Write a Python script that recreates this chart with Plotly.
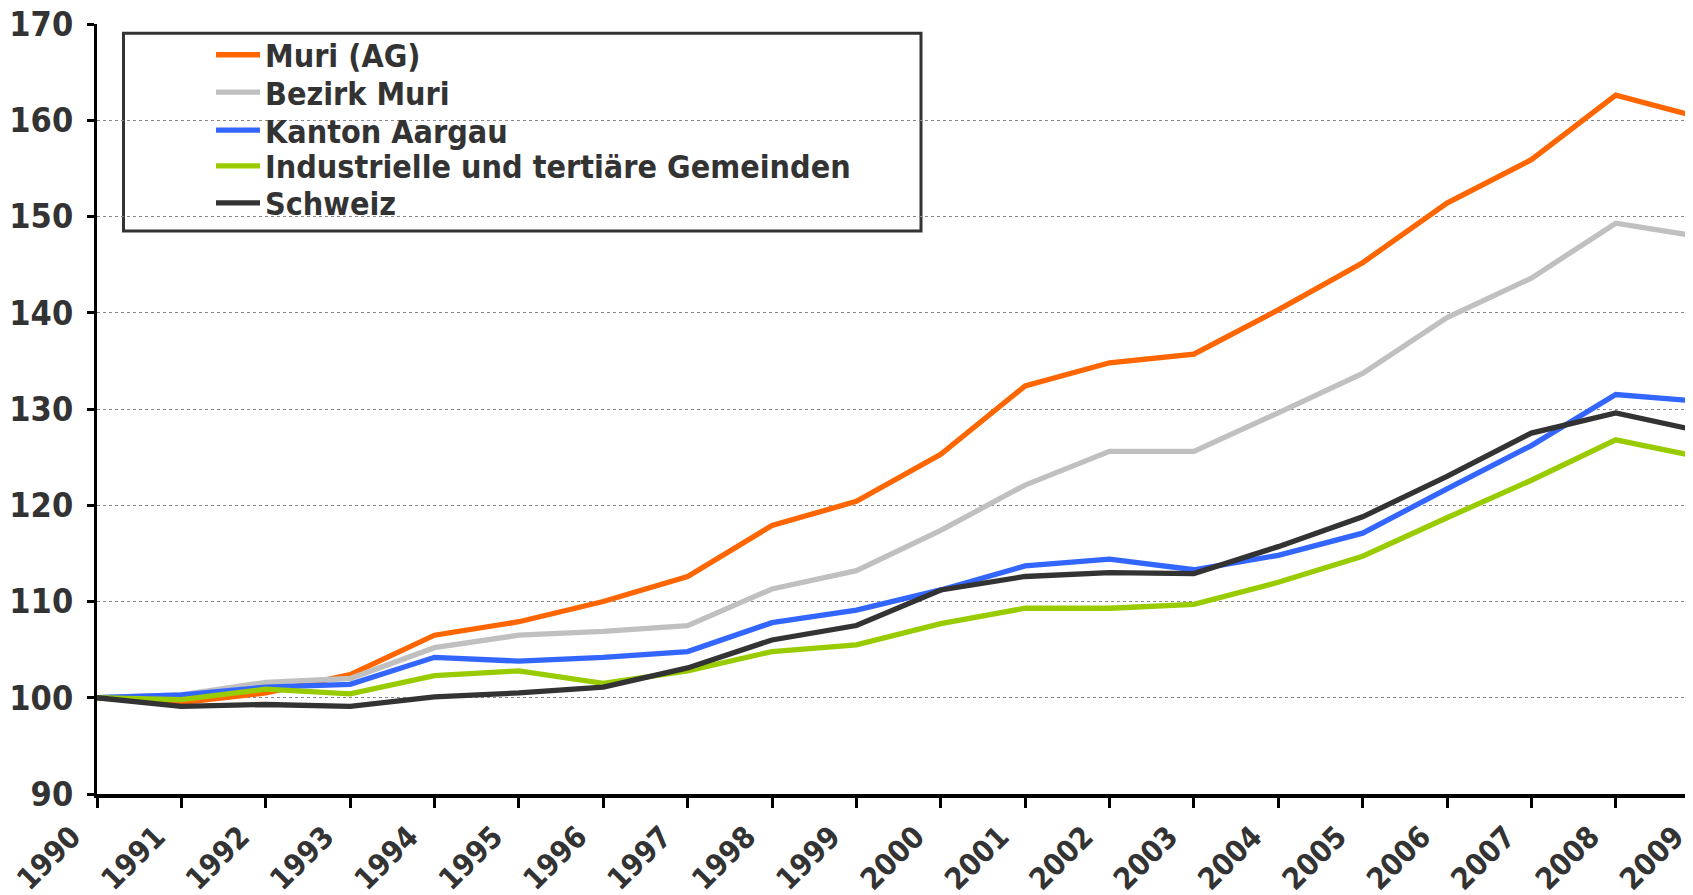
import plotly.graph_objects as go

years = list(range(1990, 2010))
muri_ag = [100, 99.5, 100.5, 102.4, 106.5, 107.9, 110.0, 112.6, 117.9, 120.4,
           125.3, 132.4, 134.8, 135.7, 140.3, 145.2, 151.4, 155.9, 162.6, 160.3]
bezirk_muri = [100, 100.3, 101.6, 102.0, 105.2, 106.5, 106.9, 107.5, 111.3, 113.2,
               117.4, 122.1, 125.6, 125.6, 129.6, 133.7, 139.5, 143.6, 149.3, 147.9]
kanton_aargau = [100, 100.3, 101.1, 101.4, 104.2, 103.8, 104.2, 104.8, 107.8, 109.1,
                 111.2, 113.7, 114.4, 113.3, 114.8, 117.1, 121.7, 126.2, 131.5, 130.8]
industrielle = [100, 99.8, 100.9, 100.4, 102.3, 102.8, 101.5, 102.8, 104.8, 105.5,
                107.7, 109.3, 109.3, 109.7, 112.0, 114.7, 118.7, 122.6, 126.8, 125.0]
schweiz = [100, 99.1, 99.3, 99.1, 100.1, 100.5, 101.1, 103.1, 106.0, 107.5,
           111.2, 112.6, 113.0, 112.9, 115.7, 118.8, 123.0, 127.5, 129.6, 127.7]

series_names = ["Muri (AG)", "Bezirk Muri", "Kanton Aargau",
                "Industrielle und tertiäre Gemeinden", "Schweiz"]
series_values = [muri_ag, bezirk_muri, kanton_aargau, industrielle, schweiz]
colors = ["#FF6600", "#C0C0C0", "#3366FF", "#99CC00", "#333333"]
y_ticks = [90, 100, 110, 120, 130, 140, 150, 160, 170]

FONT = "DejaVu Sans Condensed, DejaVu Sans, sans-serif"
TEXT = "#333333"

# page is offset by the 8px body margin; figure coordinates below
L, T, W, H = 89, 15.75, 1709, 895
PLOT_W = 1620
PLOT_H = 769.85
B = H - T - PLOT_H

legend_rows_px = [46.7, 84.0, 122.0, 157.7, 194.7]
legend_ids = ["legend", "legend2", "legend3", "legend4", "legend5"]

fig = go.Figure()
for name, vals, col, lid in zip(series_names, series_values, colors, legend_ids):
    fig.add_trace(go.Scatter(x=years, y=vals, name=name, mode="lines",
                             line=dict(color=col, width=5.3), legend=lid))

legend_x = (203 - L) / PLOT_W
layout_legends = {}
for lid, py in zip(legend_ids, legend_rows_px):
    layout_legends[lid] = dict(
        x=legend_x, y=1 - (py - T) / PLOT_H, xanchor="left", yanchor="middle",
        bgcolor="rgba(0,0,0,0)", borderwidth=0, itemwidth=44,
        font=dict(family=FONT, size=32, color=TEXT, weight="bold"),
    )

fig.update_layout(
    width=W, height=H,
    margin=dict(l=L, r=W - L - PLOT_W, t=T, b=B, autoexpand=False),
    paper_bgcolor="white", plot_bgcolor="white",
    font=dict(family=FONT, color=TEXT, size=32, weight="bold"),
    showlegend=True,
    shapes=[dict(type="rect", xref="paper", yref="paper",
                 x0=(115.5 - L) / PLOT_W, x1=(913 - L) / PLOT_W,
                 y0=1 - (222.7 - T) / PLOT_H, y1=1 - (25 - T) / PLOT_H,
                 line=dict(color="#333333", width=3), fillcolor="white",
                 layer="below")],
    **layout_legends,
)

fig.update_xaxes(
    range=[1990, 2009.2], tickmode="array", tickvals=years,
    ticktext=[str(y) for y in years], tickangle=-45,
    showline=True, linecolor="black", linewidth=4,
    ticks="outside", ticklen=10, tickwidth=3, tickcolor="black",
    showgrid=False, zeroline=False, automargin=False,
    ticklabeloverflow="allow", ticklabelstandoff=-1, ticklabelshift=-25,
    tickfont=dict(family=FONT, size=30, color=TEXT, weight="bold"),
)
fig.update_yaxes(
    range=[90, 170], tickmode="array", tickvals=y_ticks,
    showline=True, linecolor="black", linewidth=3,
    ticks="outside", ticklen=7, tickwidth=3, tickcolor="black",
    showgrid=True, gridcolor="#888888", gridwidth=1, griddash="dot",
    zeroline=False, ticklabelstandoff=7, automargin=False,
    ticklabeloverflow="allow",
    tickfont=dict(family=FONT, size=34, color=TEXT, weight="bold"),
)

fig.write_html("out.html")
